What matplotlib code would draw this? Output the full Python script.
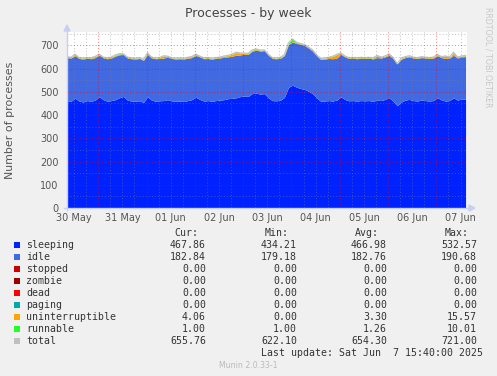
import numpy as np
import matplotlib
matplotlib.use("Agg")
import matplotlib.pyplot as plt
from matplotlib.patches import Rectangle, Polygon
from matplotlib.lines import Line2D

# ---------------- data ----------------
sleeping = [462, 459, 472, 460, 456, 462, 459, 464, 478, 466,
            459, 462, 466, 474, 480, 464, 460, 459, 461, 454,
            478, 464, 459, 461, 462, 466, 461, 459, 460, 458,
            462, 466, 476, 467, 460, 462, 459, 462, 464, 466,
            470, 472, 474, 479, 482, 480, 492, 494, 490, 492,
            474, 462, 461, 464, 476, 519, 528, 520, 514, 510,
            502, 492, 474, 459, 460, 462, 460, 464, 478, 467,
            461, 462, 460, 462, 461, 462, 459, 464, 462, 467,
            474, 460, 440, 456, 464, 467, 462, 460, 464, 462,
            460, 462, 474, 465, 460, 462, 474, 464, 469, 468]
idle = [185, 186, 183, 183, 185, 182, 183, 183, 179, 180,
        183, 183, 187, 185, 180, 181, 182, 182, 182, 181,
        183, 181, 183, 182, 183, 183, 182, 182, 182, 183,
        182, 181, 180, 183, 182, 181, 181, 182, 181, 183,
        180, 181, 183, 179, 180, 181, 183, 185, 185, 185,
        183, 181, 181, 180, 180, 184, 186, 188, 190, 189,
        186, 183, 181, 180, 181, 181, 182, 181, 183, 183,
        182, 183, 182, 182, 182, 183, 182, 183, 183, 183,
        183, 183, 180, 184, 183, 183, 183, 183, 183, 183,
        183, 183, 181, 182, 183, 183, 183, 181, 181, 183]
stopped = [0] * 100
zombie = [0] * 100
dead = [0] * 100
paging = [0] * 100
uninterruptible = [3, 2, 4, 3, 3, 2, 3, 4, 3, 2,
                   3, 3, 4, 3, 2, 3, 3, 2, 3, 3,
                   4, 3, 2, 3, 9, 3, 2, 3, 3, 2,
                   3, 4, 3, 2, 3, 3, 3, 2, 3, 4,
                   5, 8, 12, 7, 3, 3, 4, 3, 3, 2,
                   3, 3, 2, 3, 3, 4, 3, 3, 2, 3,
                   3, 4, 3, 3, 3, 4, 10, 15, 4, 3,
                   3, 2, 3, 3, 3, 2, 3, 8, 3, 3,
                   4, 3, 0, 3, 3, 4, 3, 2, 3, 3,
                   3, 3, 4, 3, 10, 3, 12, 3, 3, 4]
runnable = [1, 1, 2, 1, 1, 1, 1, 1, 2, 1,
            1, 1, 1, 2, 1, 1, 1, 1, 1, 1,
            2, 1, 1, 1, 1, 1, 1, 1, 1, 1,
            1, 1, 2, 1, 1, 1, 1, 1, 1, 1,
            1, 1, 1, 2, 1, 1, 1, 2, 1, 1,
            1, 1, 1, 1, 1, 3, 10, 2, 1, 1,
            1, 1, 1, 1, 1, 1, 1, 1, 2, 1,
            1, 1, 1, 1, 1, 1, 1, 1, 1, 1,
            2, 1, 1, 1, 1, 1, 1, 1, 1, 1,
            1, 1, 2, 1, 1, 1, 1, 1, 1, 1]
# samples every 2 h, first sample 30 May 08:30 (hours since 30 May 00:00)
sample_hours = [8.5 + 2 * k for k in range(100)]

series_names = ["sleeping", "idle", "stopped", "zombie", "dead", "paging",
                "uninterruptible", "runnable", "total"]
series_colors = ["#0022ff", "#4169e1", "#cc0000", "#990000", "#ff0000",
                 "#00aaaa", "#ffa500", "#22ff22", "#c0c0c0"]
cur_vals = [467.86, 182.84, 0.00, 0.00, 0.00, 0.00, 4.06, 1.00, 655.76]
min_vals = [434.21, 179.18, 0.00, 0.00, 0.00, 0.00, 0.00, 1.00, 622.10]
avg_vals = [466.98, 182.76, 0.00, 0.00, 0.00, 0.00, 3.30, 1.26, 654.30]
max_vals = [532.57, 190.68, 0.00, 0.00, 0.00, 0.00, 15.57, 10.01, 721.00]

day_labels = ["30 May", "31 May", "01 Jun", "02 Jun", "03 Jun",
              "04 Jun", "05 Jun", "06 Jun", "07 Jun"]
y_ticks = [0, 100, 200, 300, 400, 500, 600, 700]

# ---------------- figure ----------------
W, H = 497, 376
BG = "#f0f0f0"
fig = plt.figure(figsize=(W / 100, H / 100), dpi=100, facecolor=BG)


def fx(px):
    return px / W


def fy(py):
    return 1 - py / H


ax = fig.add_axes([fx(67), fy(208), 400 / W, 176 / H])
ax.set_facecolor("white")

t = np.array(sample_hours) / 24.0
stack_series = [sleeping, idle, stopped, zombie, dead, paging,
                uninterruptible, runnable]
base = np.zeros(len(t))
for vals, col in zip(stack_series, series_colors[:8]):
    top = base + np.array(vals, dtype=float)
    if np.any(top > base):
        ax.fill_between(t, base, top, color=col, lw=0, zorder=2)
    base = top
total = base
ax.plot(t, total, color=series_colors[8], lw=0.9, zorder=3)

ax.set_xlim(t[0], 8.633)
ax.set_ylim(0, 757)

# grid (drawn on top like rrdtool)
minor_c = (0.5, 0.5, 0.5, 0.45)
major_c = (1.0, 0.0, 0.0, 0.5)
dots = (0, (1, 2))
for h in range(6, 9 * 24, 6):
    d = h / 24
    if d >= 8.633:
        break
    if h % 24 == 0:
        ax.axvline(d, color=major_c, lw=0.75, ls=dots, zorder=4)
    else:
        ax.axvline(d, color=minor_c, lw=0.75, ls=dots, zorder=4)
for v in range(50, 760, 50):
    if v % 100 == 0:
        ax.axhline(v, color=major_c, lw=0.75, ls=dots, zorder=4)
    else:
        ax.axhline(v, color=minor_c, lw=0.75, ls=dots, zorder=4)

for s in ax.spines.values():
    s.set_visible(False)

txt_c = "#555555"
ax.set_yticks(y_ticks)
ax.set_yticklabels([str(v) for v in y_ticks], fontsize=7, color=txt_c)
ax.set_xticks([k + 0.5 for k in range(len(day_labels))])
ax.set_xticklabels(day_labels, fontsize=7, color=txt_c)
ax.tick_params(axis="y", length=0, pad=6)
ax.tick_params(axis="x", length=0, pad=3.5)

# axes lines with arrows
axc = "#c8cff5"
fig.add_artist(Line2D([fx(67), fx(67)], [fy(210), fy(30)], color=axc, lw=1,
                      transform=fig.transFigure))
fig.add_artist(Line2D([fx(64), fx(470)], [fy(208), fy(208)], color=axc, lw=1,
                      transform=fig.transFigure))
fig.add_artist(Polygon([[fx(67), fy(25)], [fx(64), fy(31)], [fx(70), fy(31)]],
                       closed=True, color=axc, transform=fig.transFigure))
fig.add_artist(Polygon([[fx(475), fy(208)], [fx(469), fy(205)], [fx(469), fy(211)]],
                       closed=True, color=axc, transform=fig.transFigure))

# title / labels
fig.text(fx(248), fy(13), "Processes - by week", ha="center", va="center",
         fontsize=9, color="#444444")
fig.text(fx(10), fy(120), "Number of processes", rotation=90, ha="center",
         va="center", fontsize=7.9, color=txt_c)
fig.text(fx(488), fy(57), "RRDTOOL / TOBI OETIKER", rotation=270, ha="center",
         va="center", fontsize=5.7, color="#c8c8c8")

# legend
mono = "DejaVu Sans Mono"
fs = 7.1
lc = "#333333"
hdr_y = 233
for xr, h in zip([198, 289, 379, 469], ["Cur:", "Min:", "Avg:", "Max:"]):
    fig.text(fx(xr), fy(hdr_y), h, ha="right", va="center", family=mono,
             fontsize=fs, color=lc)
for k, name in enumerate(series_names):
    yy = 245 + 12 * k
    fig.add_artist(Rectangle((fx(14), fy(yy + 3)), 6 / W, 6 / H,
                             facecolor=series_colors[k], edgecolor="none",
                             transform=fig.transFigure))
    fig.text(fx(26), fy(yy), name, ha="left", va="center", family=mono,
             fontsize=fs, color=lc)
    for xr, vals in zip([206, 297, 387, 477],
                        [cur_vals, min_vals, avg_vals, max_vals]):
        fig.text(fx(xr), fy(yy), f"{vals[k]:.2f}", ha="right", va="center",
                 family=mono, fontsize=fs, color=lc)

fig.text(fx(261), fy(353), "Last update: Sat Jun  7 15:40:00 2025", ha="left",
         va="center", family=mono, fontsize=fs, color=lc)
fig.text(fx(248.5), fy(365), "Munin 2.0.33-1", ha="center", va="center",
         fontsize=5.6, color="#bbbbbb")

fig.savefig("out.png", dpi=100, facecolor=BG)
